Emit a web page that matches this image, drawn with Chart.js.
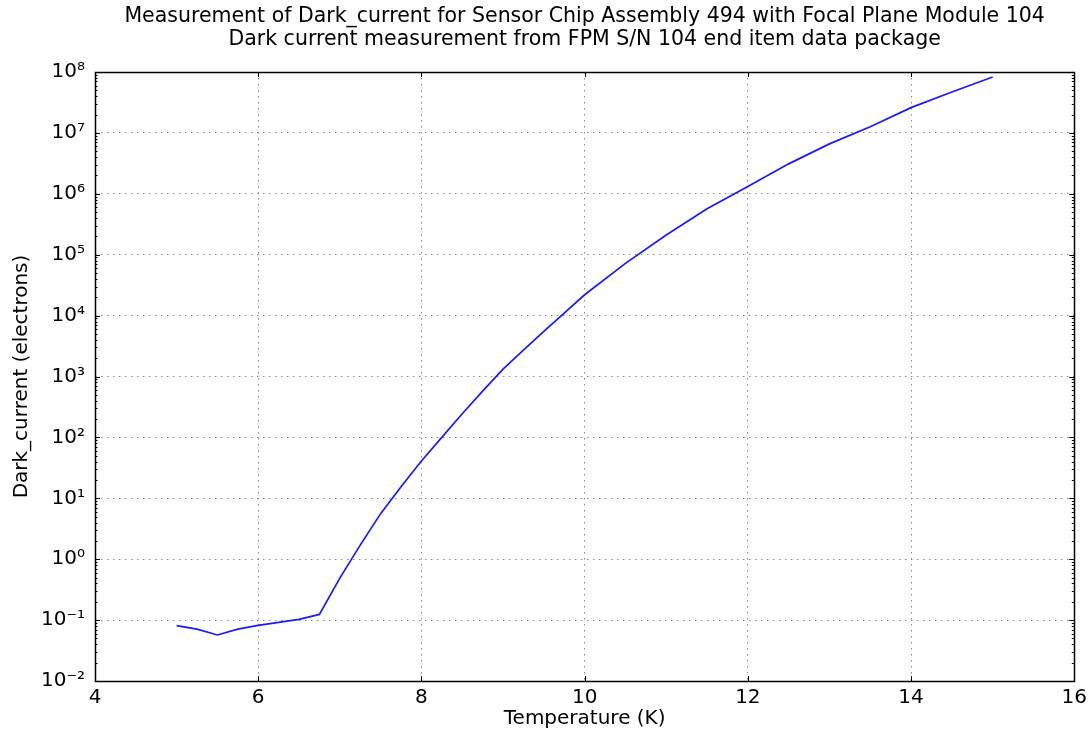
<!DOCTYPE html>
<html>
<head>
<meta charset="utf-8">
<script src="https://cdn.jsdelivr.net/npm/chart.js@4/dist/chart.umd.min.js"></script>
<style>
  html, body { margin: 0; padding: 0; background: #fff; }
</style>
</head>
<body>
<canvas id="chart" width="1092" height="731"></canvas>
<script>
// temperature (K) and dark current (electrons)
const tempK = [5, 5.25, 5.5, 5.75, 6, 6.25, 6.5, 6.75, 7, 7.25, 7.5, 7.75, 8, 8.25, 8.5, 8.75,
  9, 9.25, 9.5, 9.75, 10, 10.5, 11, 11.5, 12, 12.5, 13, 13.5, 14, 14.5, 15];
const darkCurrent = [0.081, 0.071, 0.057, 0.071, 0.082, 0.092, 0.103, 0.124, 0.49, 1.7, 5.6, 15.5,
  41, 100, 245, 575, 1320, 2700, 5500, 1.1e4, 2.2e4, 7.2e4, 2.1e5, 5.7e5, 1.32e6, 3.1e6, 6.6e6,
  1.26e7, 2.6e7, 4.7e7, 8.3e7];

const xTicks = [4, 6, 8, 10, 12, 14, 16];
const yDecades = [-2, -1, 0, 1, 2, 3, 4, 5, 6, 7, 8];

const titleLines = [
  "Measurement of Dark_current for Sensor Chip Assembly 494 with Focal Plane Module 104",
  "Dark current measurement from FPM S/N 104 end item data package"
];

const FONT = "'DejaVu Sans', sans-serif";
const SUP = { "-": "\u207B", "0": "\u2070", "1": "\u00B9", "2": "\u00B2", "3": "\u00B3",
  "4": "\u2074", "5": "\u2075", "6": "\u2076", "7": "\u2077", "8": "\u2078", "9": "\u2079" };

function powLabel(e) {
  return "10" + String(e).split("").map(c => SUP[c]).join("");
}

function isDecade(v) {
  const e = Math.round(Math.log10(v));
  return Math.abs(v / Math.pow(10, e) - 1) < 1e-6;
}

// title centred over the axes, as matplotlib does
const titlePlugin = {
  id: "axesTitle",
  afterDraw(chart) {
    const { ctx, chartArea: a } = chart;
    const cx = (a.left + a.right) / 2;
    ctx.save();
    ctx.fillStyle = "#000";
    ctx.font = "20.5px " + FONT;
    ctx.textAlign = "center";
    ctx.textBaseline = "middle";
    titleLines.forEach((line, i) => ctx.fillText(line, cx, 17 + i * 23));
    ctx.restore();
  }
};

// inward ticks + full frame like matplotlib
const framePlugin = {
  id: "frame",
  afterDraw(chart) {
    const { ctx, chartArea: a } = chart;
    const xs = chart.scales.x, ys = chart.scales.y;
    ctx.save();
    ctx.strokeStyle = "#000";
    ctx.lineWidth = 1;
    ctx.beginPath();
    xTicks.forEach(t => {
      const px = Math.round(xs.getPixelForValue(t)) + 0.5;
      ctx.moveTo(px, a.bottom); ctx.lineTo(px, a.bottom - 5);
      ctx.moveTo(px, a.top); ctx.lineTo(px, a.top + 5);
    });
    yDecades.forEach(e => {
      for (let m = 1; m <= 9; m++) {
        if (e === yDecades[yDecades.length - 1] && m > 1) break;
        const py = Math.round(ys.getPixelForValue(m * Math.pow(10, e))) + 0.5;
        const len = m === 1 ? 5 : 2.5;
        ctx.moveTo(a.left, py); ctx.lineTo(a.left + len, py);
        ctx.moveTo(a.right, py); ctx.lineTo(a.right - len, py);
      }
    });
    ctx.stroke();
    ctx.lineWidth = 1.5;
    ctx.strokeRect(Math.round(a.left) + 0.5, Math.round(a.top) + 0.5,
      Math.round(a.right - a.left), Math.round(a.bottom - a.top));
    ctx.restore();
  }
};

new Chart(document.getElementById("chart"), {
  type: "line",
  data: {
    datasets: [{
      data: tempK.map((t, i) => ({ x: t, y: darkCurrent[i] })),
      borderColor: "#1a1aff",
      borderWidth: 1.7,
      pointRadius: 0,
      tension: 0,
      fill: false
    }]
  },
  options: {
    responsive: false,
    animation: false,
    devicePixelRatio: 1,
    layout: { padding: { left: 0, right: 14, top: 72, bottom: 0 } },
    plugins: {
      legend: { display: false },
      tooltip: { enabled: false },
      title: { display: false }
    },
    scales: {
      x: {
        type: "linear",
        min: 4,
        max: 16,
        afterFit: s => { s.height = 50; },
        afterBuildTicks: s => { s.ticks = xTicks.map(v => ({ value: v })); },
        ticks: {
          color: "#000",
          font: { family: FONT, size: 20 },
          padding: 5,
          maxRotation: 0,
          autoSkip: false
        },
        grid: { color: "#888", lineWidth: 1, drawTicks: false },
        border: { display: false, dash: [1.5, 4.5] },
        title: {
          display: true,
          text: "Temperature (K)",
          color: "#000",
          font: { family: FONT, size: 20 },
          padding: { top: 0, bottom: 0 }
        }
      },
      y: {
        type: "logarithmic",
        min: 1e-2,
        max: 1e8,
        afterFit: s => { s.width = 95; },
        afterBuildTicks: s => { s.ticks = yDecades.map(e => ({ value: Math.pow(10, e) })); },
        ticks: {
          color: "#000",
          font: { family: FONT, size: 20 },
          padding: 10,
          autoSkip: false,
          callback: v => isDecade(v) ? powLabel(Math.round(Math.log10(v))) : ""
        },
        grid: { color: "#888", lineWidth: 1, drawTicks: false },
        border: { display: false, dash: [1.5, 4.5] },
        title: {
          display: true,
          text: "Dark_current (electrons)",
          color: "#000",
          font: { family: FONT, size: 20 },
          padding: { top: 10, bottom: 0 }
        }
      }
    }
  },
  plugins: [titlePlugin, framePlugin]
});
</script>
</body>
</html>
